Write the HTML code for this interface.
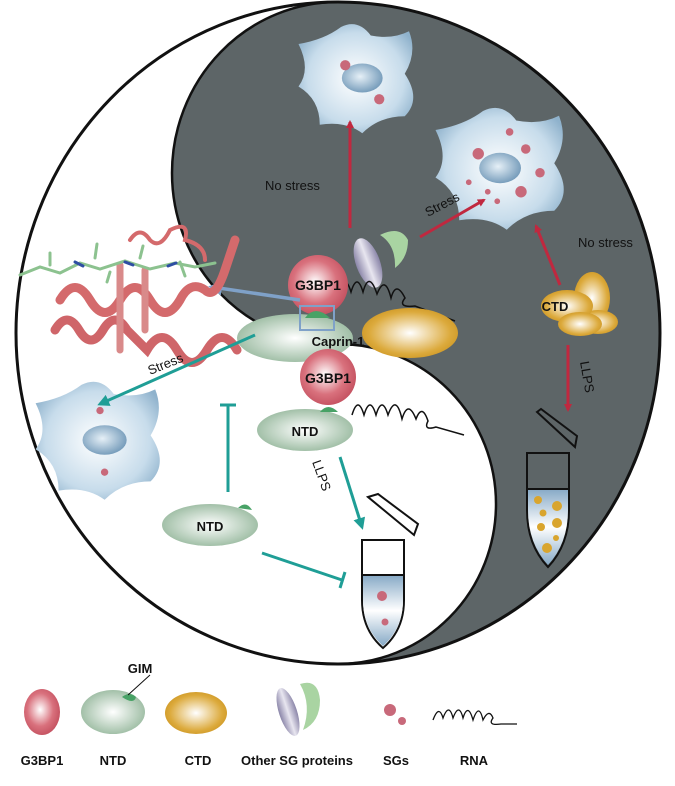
<!DOCTYPE html>
<html><head><meta charset="utf-8"><style>
body{margin:0;background:#fff}
svg text{font-family:"Liberation Sans",Arial,sans-serif}
</style></head><body>
<svg width="675" height="781" viewBox="0 0 675 781" xmlns="http://www.w3.org/2000/svg">
<defs>
<radialGradient id="red" cx="45%" cy="45%" r="60%"><stop offset="0" stop-color="#fff"/><stop offset="0.6" stop-color="#d9717d"/><stop offset="1" stop-color="#c24e5d"/></radialGradient>
<radialGradient id="grn" cx="50%" cy="50%" r="60%"><stop offset="0" stop-color="#fff"/><stop offset="1" stop-color="#8fb396"/></radialGradient>
<radialGradient id="yel" cx="50%" cy="50%" r="60%"><stop offset="0" stop-color="#fff"/><stop offset="0.7" stop-color="#dcaa3c"/><stop offset="1" stop-color="#c8901c"/></radialGradient>
<radialGradient id="cell" cx="50%" cy="50%" r="60%"><stop offset="0" stop-color="#fff"/><stop offset="0.7" stop-color="#c7dceb"/><stop offset="1" stop-color="#8fb2cc"/></radialGradient>
<radialGradient id="nuc" cx="45%" cy="45%" r="60%"><stop offset="0" stop-color="#e6f0f7"/><stop offset="1" stop-color="#6f97b7"/></radialGradient>
<linearGradient id="pur" x1="0" x2="1"><stop offset="0" stop-color="#8a85a8"/><stop offset="0.5" stop-color="#e8e6f0"/><stop offset="1" stop-color="#8a85a8"/></linearGradient>
<linearGradient id="liq" x1="0" y1="0" x2="0" y2="1"><stop offset="0" stop-color="#86a9c6"/><stop offset="0.5" stop-color="#fff"/><stop offset="1" stop-color="#86a9c6"/></linearGradient>
<marker id="ar" markerWidth="8" markerHeight="8" refX="6" refY="4" orient="auto" markerUnits="userSpaceOnUse"><path d="M0,0 L8,4 L0,8 Z" fill="#c0283f"/></marker>
<marker id="at" markerWidth="12" markerHeight="12" refX="9" refY="6" orient="auto" markerUnits="userSpaceOnUse"><path d="M0,0 L12,6 L0,12 Z" fill="#1f9e96"/></marker>
<marker id="ab" markerWidth="14" markerHeight="14" refX="10" refY="7" orient="auto" markerUnits="userSpaceOnUse"><path d="M0,0 L14,7 L0,14 Z" fill="#7fa1c8"/></marker>
<g id="cellshape"><path d="M-70,-40 Q-40,-45 -20,-60 Q0,-70 15,-50 Q40,-45 60,-55 Q70,-30 55,-5 Q75,25 55,45 Q25,45 5,65 Q-15,50 -45,55 Q-45,25 -70,10 Q-55,-10 -70,-40Z" fill="url(#cell)"/></g>
</defs>

<ellipse cx="338" cy="333" rx="322" ry="331" fill="#fff"/>
<path d="M338,2 A322,331 0 0 1 338,664 A158,160 0 0 0 338,344 A166,171 0 0 1 338,2 Z" fill="#5d6567"/>
<ellipse cx="338" cy="333" rx="322" ry="331" fill="none" stroke="#111" stroke-width="3"/>
<path d="M338,344 A166,171 0 0 1 338,2" fill="none" stroke="#111" stroke-width="2.5"/>
<path d="M338,344 A158,160 0 0 1 338,664" fill="none" stroke="#111" stroke-width="2.5"/>

<g transform="translate(358,78) scale(0.85)"><use href="#cellshape"/><ellipse cx="5" cy="0" rx="24" ry="17" fill="url(#nuc)"/><circle cx="-15" cy="-15" r="6" fill="#c8697a"/><circle cx="25" cy="25" r="6" fill="#c8697a"/></g>
<g transform="translate(502,168) scale(0.95)"><use href="#cellshape"/><ellipse cx="-2" cy="0" rx="22" ry="16" fill="url(#nuc)"/>
<circle cx="-25" cy="-15" r="6" fill="#c8697a"/><circle cx="25" cy="-20" r="5" fill="#c8697a"/><circle cx="40" cy="5" r="5" fill="#c8697a"/><circle cx="20" cy="25" r="6" fill="#c8697a"/><circle cx="-15" cy="25" r="3" fill="#c8697a"/><circle cx="-35" cy="15" r="3" fill="#c8697a"/><circle cx="8" cy="-38" r="4" fill="#c8697a"/><circle cx="-5" cy="35" r="3" fill="#c8697a"/></g>
<g transform="translate(100,440) scale(0.92)"><use href="#cellshape"/><ellipse cx="5" cy="0" rx="24" ry="16" fill="url(#nuc)"/><circle cx="0" cy="-32" r="4" fill="#c8697a"/><circle cx="5" cy="35" r="4" fill="#c8697a"/></g>

<g stroke="#c0283f" stroke-width="3" fill="none">
<line x1="350" y1="228" x2="350" y2="122" marker-end="url(#ar)"/>
<line x1="420" y1="237" x2="484" y2="200" marker-end="url(#ar)"/>
<line x1="560" y1="285" x2="536" y2="226" marker-end="url(#ar)"/>
<line x1="568" y1="345" x2="568" y2="410" marker-end="url(#ar)"/>
</g>
<text x="265" y="190" font-size="13" fill="#111">No stress</text>
<text x="0" y="0" font-size="13" fill="#111" transform="translate(428,217) rotate(-28)">Stress</text>
<text x="578" y="247" font-size="13" fill="#111">No stress</text>
<text x="0" y="0" font-size="13" fill="#111" transform="translate(580,362) rotate(80)">LLPS</text>

<ellipse cx="368" cy="263" rx="12" ry="26" fill="url(#pur)" transform="rotate(-20 368 263)"/>
<path d="M380,235 Q400,225 408,240 Q408,258 395,268 Q396,245 380,235Z" fill="#a9d4a2"/>

<path d="M325,292 q8,-22 14,0 q6,-20 12,0 q6,-20 12,0 q6,-22 14,2 q8,-20 14,4 q5,-18 14,0 q-8,10 10,8 l40,15" fill="none" stroke="#111" stroke-width="1.5"/>

<ellipse cx="295" cy="338" rx="58" ry="24" fill="url(#grn)"/>
<ellipse cx="410" cy="333" rx="48" ry="25" fill="url(#yel)"/>
<circle cx="318" cy="285" r="30" fill="url(#red)"/>
<path d="M305,318 q10,-14 25,0 z" fill="#48a266"/>
<text x="318" y="290" font-size="14" font-weight="bold" text-anchor="middle" fill="#111">G3BP1</text>
<text x="338" y="346" font-size="13" font-weight="bold" text-anchor="middle" fill="#111">Caprin-1</text>
<rect x="300" y="306" width="34" height="24" fill="none" stroke="#7fa1c8" stroke-width="2"/>
<line x1="300" y1="300" x2="212" y2="287" stroke="#7fa1c8" stroke-width="3.5" marker-end="url(#ab)"/>

<g fill="none" stroke-linecap="round">
<path d="M60,300 q15,-25 30,0 q15,25 30,0 q15,-25 30,0 q15,25 30,0 q10,-20 25,-10 q10,10 20,-20 l10,-30" stroke="#d46a6c" stroke-width="9"/>
<path d="M55,330 q12,-20 24,0 q12,20 24,0 q12,-20 24,0 l20,20 q15,-25 30,0 q15,25 30,0 q15,-25 30,0" stroke="#cf6569" stroke-width="9"/>
<path d="M120,265 l0,85 M145,270 l0,60" stroke="#d98a8a" stroke-width="7"/>
<path d="M130,240 q10,-15 20,0 q10,10 20,-10 q20,-10 15,10 q20,5 20,20" stroke="#d46a6c" stroke-width="4"/>
<path d="M20,275 l20,-8 l20,6 l20,-10 l20,6 l25,-8 l25,8 l25,-6 l20,4 l20,-4" stroke="#8cc28f" stroke-width="3"/>
<path d="M50,265 l0,-12 M95,258 l2,-14 M140,258 l3,-12 M180,262 l5,14 M110,272 l-3,10" stroke="#8cc28f" stroke-width="3"/>
<path d="M75,262 l8,4 M125,262 l8,3 M168,266 l8,-3" stroke="#2e4ea3" stroke-width="3"/>
</g>

<g stroke="#1f9e96" stroke-width="3" fill="none">
<line x1="255" y1="335" x2="100" y2="404" marker-end="url(#at)"/>
<line x1="228" y1="492" x2="228" y2="405"/><line x1="220" y1="405" x2="236" y2="405"/>
<line x1="262" y1="553" x2="342" y2="580"/><line x1="345" y1="572" x2="340" y2="588"/>
<line x1="340" y1="457" x2="362" y2="527" marker-end="url(#at)"/>
</g>
<text x="0" y="0" font-size="13" fill="#111" transform="translate(150,375) rotate(-22)">Stress</text>
<text x="0" y="0" font-size="13" fill="#111" transform="translate(312,462) rotate(70)">LLPS</text>

<ellipse cx="305" cy="430" rx="48" ry="21" fill="url(#grn)"/>
<path d="M320,412 q8,-10 18,0 z" fill="#48a266"/>
<circle cx="328" cy="377" r="28" fill="url(#red)"/>
<text x="328" y="383" font-size="14" font-weight="bold" text-anchor="middle" fill="#111">G3BP1</text>
<text x="305" y="436" font-size="13" font-weight="bold" text-anchor="middle" fill="#111">NTD</text>
<path d="M352,415 q6,-20 12,0 q6,-20 12,0 q6,-20 12,0 q8,-22 14,4 q6,-20 14,0 q6,-16 12,2 q-5,10 8,6 l28,8" fill="none" stroke="#111" stroke-width="1.5"/>

<ellipse cx="210" cy="525" rx="48" ry="21" fill="url(#grn)"/>
<path d="M238,508 q8,-8 14,2 z" fill="#48a266"/>
<text x="210" y="531" font-size="13" font-weight="bold" text-anchor="middle" fill="#111">NTD</text>

<path d="M368,497 l10,-3 l40,30 l-4,11 z" fill="#fff" stroke="#111" stroke-width="2"/>
<path d="M362,540 L404,540 L404,600 Q404,630 383,648 Q362,630 362,600 Z" fill="#fff" stroke="#111" stroke-width="2"/>
<path d="M363,575 L403,575 L403,600 Q403,628 383,646 Q363,628 363,600 Z" fill="url(#liq)"/>
<line x1="362" y1="575" x2="404" y2="575" stroke="#111" stroke-width="2"/>
<circle cx="382" cy="596" r="5" fill="#c8697a"/><circle cx="385" cy="622" r="3.5" fill="#c8697a"/>

<path d="M537,412 l4,-3 l36,27 l-2,11 z" fill="#5d6567" stroke="#111" stroke-width="2"/>
<path d="M527,453 L569,453 L569,510 Q569,545 548,567 Q527,545 527,510 Z" fill="#5d6567" stroke="#111" stroke-width="2"/>
<path d="M528,489 L568,489 L568,510 Q568,543 548,565 Q528,543 528,510 Z" fill="url(#liq)"/>
<line x1="527" y1="489" x2="569" y2="489" stroke="#111" stroke-width="2"/>
<g fill="#d9a52e"><circle cx="538" cy="500" r="4"/><circle cx="557" cy="506" r="5"/><circle cx="543" cy="513" r="3.5"/><circle cx="557" cy="523" r="5"/><circle cx="541" cy="527" r="4"/><circle cx="556" cy="538" r="3"/><circle cx="547" cy="548" r="5"/></g>

<ellipse cx="592" cy="298" rx="18" ry="26" fill="url(#yel)"/>
<ellipse cx="598" cy="322" rx="20" ry="12" fill="url(#yel)"/>
<ellipse cx="567" cy="306" rx="26" ry="16" fill="url(#yel)"/>
<ellipse cx="580" cy="324" rx="22" ry="12" fill="url(#yel)"/>
<text x="555" y="311" font-size="13" font-weight="bold" text-anchor="middle" fill="#111">CTD</text>

<!-- legend -->
<ellipse cx="42" cy="712" rx="18" ry="23" fill="url(#red)"/>
<ellipse cx="113" cy="712" rx="32" ry="22" fill="url(#grn)"/>
<path d="M122,697 q8,-6 14,0 q-2,8 -14,0z" fill="#48a266"/>
<line x1="128" y1="695" x2="150" y2="675" stroke="#111" stroke-width="1"/>
<text x="140" y="673" font-size="13" font-weight="bold" fill="#111" text-anchor="middle">GIM</text>
<ellipse cx="196" cy="713" rx="31" ry="21" fill="url(#yel)"/>
<path d="M300,684 Q318,678 320,700 Q320,722 303,730 Q312,705 300,684Z" fill="#a9d4a2"/>
<ellipse cx="288" cy="712" rx="9" ry="25" fill="url(#pur)" transform="rotate(-18 288 712)"/>
<circle cx="390" cy="710" r="6" fill="#c8697a"/><circle cx="402" cy="721" r="4" fill="#c8697a"/>
<path d="M433,720 q6,-16 10,-2 q6,-16 10,0 q6,-16 10,0 q5,-16 10,2 q6,-18 10,0 q6,-12 10,-2 q-6,8 8,6 l16,0" fill="none" stroke="#111" stroke-width="1.3"/>
<g font-size="13" font-weight="bold" fill="#111" text-anchor="middle">
<text x="42" y="765">G3BP1</text><text x="113" y="765">NTD</text><text x="198" y="765">CTD</text>
<text x="297" y="765">Other SG proteins</text><text x="396" y="765">SGs</text><text x="474" y="765">RNA</text></g>
</svg>
</body></html>
